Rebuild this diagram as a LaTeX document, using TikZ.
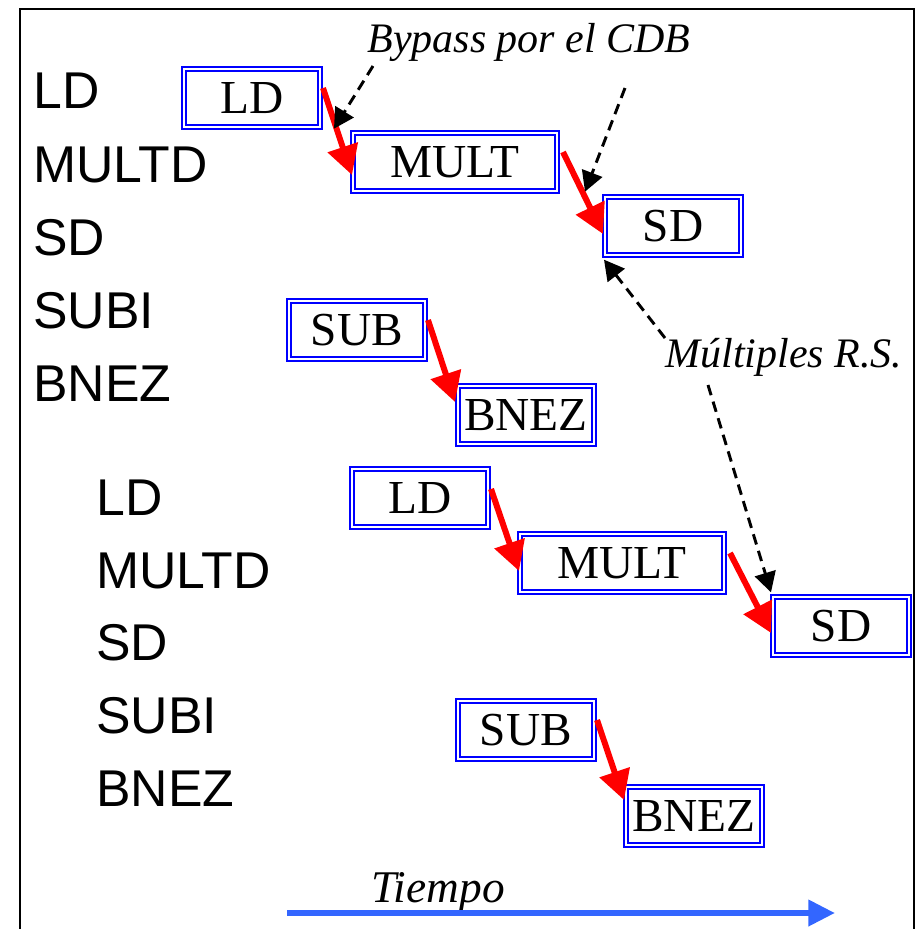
\documentclass[tikz,border=0pt]{standalone}
\usepackage{fontspec}
\setmainfont{Liberation Serif}
\setsansfont{Liberation Sans}
\usetikzlibrary{arrows.meta,calc}
\definecolor{timeblue}{RGB}{51,102,255}

\begin{document}
\begin{tikzpicture}[x=0.75pt,y=-0.75pt,
    stage/.style={draw=blue,double=white,double distance=1.3pt,line width=1.5pt,
      minimum width=102pt,minimum height=43pt,inner sep=0pt,
      font=\fontsize{35.5}{40}\selectfont},
    widestage/.style={stage,minimum width=153pt},
    instr/.style={anchor=base west,inner sep=0pt,font=\sffamily\fontsize{38.8}{44}\selectfont},
    note/.style={anchor=base,inner sep=0pt,font=\itshape\fontsize{31.5}{36}\selectfont},
    flow/.style={draw=red,line width=4.5pt,-{Triangle[length=22pt,width=23pt]}},
    hint/.style={dashed,dash pattern=on 8pt off 5pt,line width=2.2pt,
      -{Triangle[length=15pt,width=16pt]}}]
    \useasboundingbox (0,0) rectangle (919,929);
    \draw[line width=1.9pt] (20,940) -- (20,9) -- (914,9) -- (914,940);

    \node[instr] (opld)    at (33,108) {LD};
    \node[instr] (opmult)  at (33,182) {MULTD};
    \node[instr] (opsd)    at (33,255) {SD};
    \node[instr] (opsub)   at (33,328) {SUBI};
    \node[instr] (opbnez)  at (33,401) {BNEZ};
    \node[instr] (opldb)   at (96,515) {LD};
    \node[instr] (opmultb) at (96,588) {MULTD};
    \node[instr] (opsdb)   at (96,660) {SD};
    \node[instr] (opsubb)  at (96,733) {SUBI};
    \node[instr] (opbnezb) at (96,806) {BNEZ};

    \node[stage]     (ld)    at (252,98)  {LD};
    \node[widestage] (mult)  at (455,162) {MULT};
    \node[stage]     (sd)    at (673,226) {SD};
    \node[stage]     (sub)   at (357,330) {SUB};
    \node[stage]     (bnez)  at (526,415) {BNEZ};
    \node[stage]     (ldb)   at (420,498) {LD};
    \node[widestage] (multb) at (622,563) {MULT};
    \node[stage]     (sdb)   at (841,626) {SD};
    \node[stage]     (subb)  at (526,730) {SUB};
    \node[stage]     (bnezb) at (694,816) {BNEZ};

    \draw[flow] ($(ld.east)+(2,-10)$)    -- ($(mult.west)+(0,13)$);
    \draw[flow] ($(mult.east)+(5,-10)$)  -- ($(sd.west)+(-1,8)$);
    \draw[flow] ($(sub.east)+(2,-10)$)   -- ($(bnez.west)+(-2,-13)$);
    \draw[flow] ($(ldb.east)+(2,-9)$)    -- ($(multb.west)+(0,8)$);
    \draw[flow] ($(multb.east)+(5,-10)$) -- ($(sdb.west)+(-1,7)$);
    \draw[flow] ($(subb.east)+(2,-10)$)  -- ($(bnezb.west)+(-1,-16)$);

    \node[note] (bypass) at (529,52) {Bypass por el CDB};
    \node[note] (multrs) at (784,367) {Múltiples R.S.};
    \coordinate (bypassa) at (373,66);
    \coordinate (bypassb) at (625,88);
    \coordinate (multrsa) at (665,338);
    \coordinate (multrsb) at (708,385);
    \draw[hint] (bypassa) -- ($(ld.south east)+(13,1)$);
    \draw[hint] (bypassb) -- ($(mult.south east)+(27,0)$);
    \draw[hint] (multrsa) -- ($(sd.south west)+(0,4)$);
    \draw[hint] (multrsb) -- ($(sdb.north west)+(-1,-4)$);

    \node[note,font=\itshape\fontsize{34}{40}\selectfont] (tiempo) at (438,902) {Tiempo};
    \coordinate (tstart) at (287,913);
    \coordinate (tend) at (835,913);
    \draw[timeblue,line width=4.5pt,-{Triangle[length=20pt,width=19pt]}] (tstart) -- (tend);
\end{tikzpicture}
\end{document}
